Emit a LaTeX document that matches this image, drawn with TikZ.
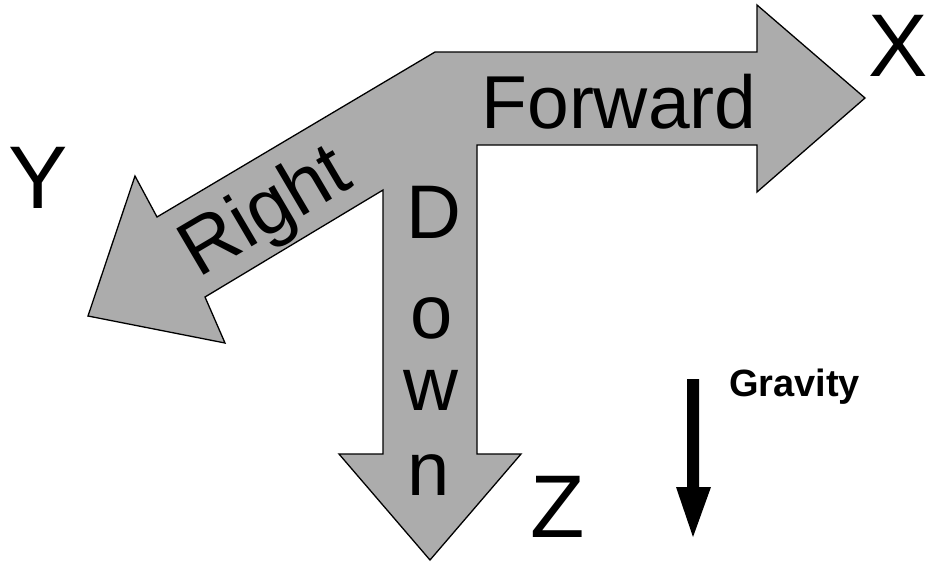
\documentclass[tikz,border=0pt]{standalone}
\usepackage{fontspec}
\setmainfont{Liberation Sans}
\definecolor{arrowgray}{RGB}{172,172,172}
\begin{document}
\begin{tikzpicture}[x=1pt,y=-1pt,
  bigarrow/.style={fill=arrowgray,draw=black,line width=1.3pt,line join=miter},
  axislabel/.style={inner sep=0pt,outer sep=0pt,anchor=base west,font=\fontsize{89}{92}\selectfont},
  dirlabel/.style={inner sep=0pt,outer sep=0pt,anchor=base,font=\fontsize{75}{80}\selectfont},
  downletter/.style={inner sep=0pt,outer sep=0pt,anchor=base,font=\fontsize{76}{80}\selectfont}]
\useasboundingbox (0,0) rectangle (926,563);
% combined three-way arrow
\draw[bigarrow] (435,52) -- (757,52) -- (757,5) -- (865,98) -- (757,192) -- (757,145)
  -- (477,145) -- (477,454) -- (521,454) -- (430,560) -- (339,454) -- (383,454)
  -- (383,190) -- (205,297) -- (225,343) -- (88,316) -- (135,176) -- (157,217) -- cycle;
% labels on the arrows
\node[dirlabel] (fwd) at (619,128) {Forward};
\node[dirlabel,rotate=30.5,font=\fontsize{78}{80}\selectfont] (right) at (277,232) {Right};
\node[downletter] (dD) at (434,238) {D};
\node[downletter] (dO) at (432,338) {o};
\node[downletter] (dW) at (431,410) {w};
\node[downletter] (dN) at (429,495) {n};
% axis letters
\node[axislabel] (X) at (868,76) {X};
\node[axislabel] (Y) at (9,208) {Y};
\node[axislabel] (Z) at (530,537) {Z};
% gravity
\node[inner sep=0pt,outer sep=0pt,anchor=base west,font=\bfseries\fontsize{38}{40}\selectfont] (grav) at (729,396) {Gravity};
\fill[black] (687,379) -- (699,379) -- (699,487) -- (711,487) -- (693,537) -- (676,487) -- (687,487) -- cycle;
\end{tikzpicture}
\end{document}
